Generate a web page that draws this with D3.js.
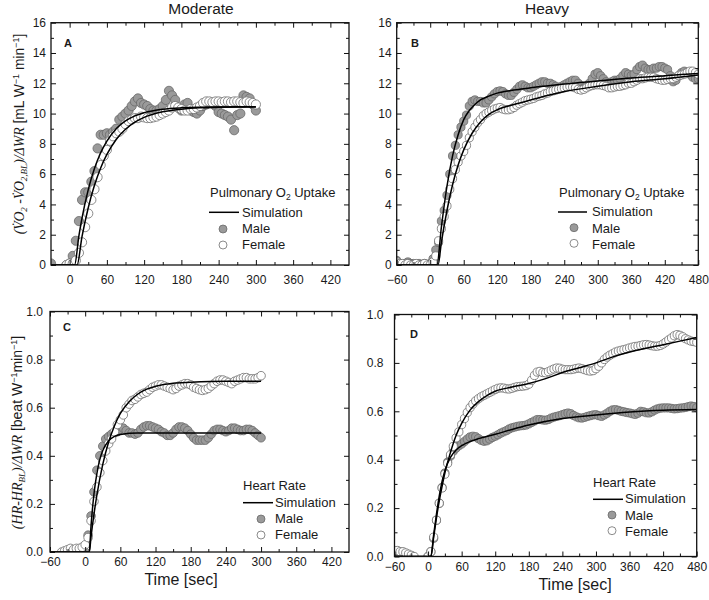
<!DOCTYPE html>
<html><head><meta charset="utf-8">
<script src="https://cdn.jsdelivr.net/npm/d3@7"></script>
<style>
body{margin:0;background:#fff}
svg{display:block}
text{font-family:Arial,"Liberation Sans",sans-serif;fill:#1a1a1a}
</style>
</head><body>
<svg id="c" width="709" height="600"></svg>
<script>
// ---------------- DATA ----------------
const colTitles = ["Moderate", "Heavy"];
const panelLetters = ["A", "B", "C", "D"];
const xTicksA = [0, 60, 120, 180, 240, 300, 360, 420];
const xTicksB = [-60, 0, 60, 120, 180, 240, 300, 360, 420, 480];
const xTicksC = [-60, 0, 60, 120, 180, 240, 300, 360, 420];
const xTicksD = [-60, 0, 60, 120, 180, 240, 300, 360, 420, 480];
const yTicksVO2 = [0, 2, 4, 6, 8, 10, 12, 14, 16];
const yTicksHR = [0, 0.2, 0.4, 0.6, 0.8, 1.0];

// sample times (s), 5 s spacing
const timeA = d3.range(-30, 301, 5);
const timeB = d3.range(-60, 481, 5);
const timeC = d3.range(-60, 301, 5);
const timeD = d3.range(-60, 481, 5);

// Panel A: moderate, pulmonary O2 uptake
const maleA = [0.1, null, null, null, null, 0.0, 0.1,
  0.6, 1.6, 2.9, 4.3, 4.8, 4.8, 5.5, 6.2, 7.7, 8.6,
  8.6, 8.7, 8.6, 8.8, 9.0, 9.6, 9.8, 10.0, 10.2, 10.5,
  10.8, 11.0, 10.7, 10.6, 10.5, 10.3, 10.2, 10.2, 10.3, 10.5,
  10.9, 11.5, 11.2, 10.9, 10.4, 10.2, 10.6, 10.7, 10.2, 10.1,
  10.0, 10.2, 10.5, 10.6, 10.7, 10.7, 10.5, 10.1, 10.0, 9.9,
  9.8, 9.6, 8.9, 9.9, 10.0, 11.2, 11.1, 11.0, 10.6, 10.2];
const femaleA = [null, null, null, null, null, 0.0, 0.1,
  0.1, 0.3, 0.8, 1.5, 2.5, 3.4, 4.3, 5.0, 5.8, 6.6,
  7.2, 7.6, 8.2, 8.5, 8.7, 8.8, 9.0, 9.3, 9.5, 9.6,
  9.7, 9.7, 9.8, 9.75, 9.7, 9.7, 9.75, 9.8, 9.9, 10.0,
  10.1, 10.2, 10.4, 10.5, 10.4, 10.3, 10.2, 10.2, 10.3, 10.3,
  10.4, 10.5, 10.7, 10.8, 10.8, 10.75, 10.8, 10.8, 10.75, 10.8,
  10.8, 10.75, 10.8, 10.8, 10.75, 10.7, 10.8, 10.75, 10.7, 10.6];
const simTimeAm = [-30, 8, 15, 20, 30, 40, 50, 60, 75, 90, 105, 120, 150, 180, 240, 300];
const simAm = [0, 0, 1.94, 3.11, 4.98, 6.37, 7.41, 8.18, 9.0, 9.51, 9.85, 10.06, 10.29, 10.38, 10.44, 10.45];
const simTimeAf = [-30, 12, 20, 30, 40, 50, 60, 75, 90, 105, 120, 150, 180, 210, 240, 300];
const simAf = [0, 0, 1.89, 3.78, 5.26, 6.41, 7.30, 8.29, 8.96, 9.43, 9.75, 10.12, 10.29, 10.38, 10.41, 10.44];

// Panel B: heavy, pulmonary O2 uptake
const maleB = [0.3, 0.1, 0.0, 0.1, 0.2, 0.1, 0.1, 0.0, 0.1, 0.0, 0.1, 0.0, 0.1,
  0.4, 1.0, 1.5, 2.9, 3.6, 4.6, 6.0, 7.2, 7.9, 8.6,
  9.1, 9.5, 9.9, 10.5, 10.8, 10.9, 10.8, 10.8, 10.7, 10.7,
  10.9, 11.1, 11.3, 11.45, 11.5, 11.45, 11.3, 11.2, 11.2, 11.4,
  11.6, 11.8, 11.9, 11.8, 11.7, 11.7, 11.8, 11.9, 12.0, 12.1,
  12.1, 12.0, 12.0, 11.9, 11.8, 11.7, 11.8, 11.9, 12.0, 12.1,
  12.2, 12.2, 12.0, 11.8, 11.7, 11.8, 12.0, 12.3, 12.6, 12.7,
  12.5, 12.3, 12.1, 12.0, 12.1, 12.2, 12.2, 12.3, 12.5, 12.7,
  12.6, 12.5, 12.6, 12.9, 13.1, 13.2, 13.0, 12.9, 12.9, 13.0,
  13.0, 13.1, 13.1, 13.0, 12.9, 12.5, 12.1, 12.2, 12.5, 12.7,
  12.8, 12.7, 12.6, 12.4, 12.3, 12.3];
const femaleB = [0.2, 0.1, 0.1, 0.0, 0.1, 0.0, 0.0, 0.1, 0.0, 0.0, 0.1, 0.0, 0.0,
  0.2, 0.6, 1.6, 2.4, 3.2, 3.9, 5.0, 5.7, 6.3, 6.8,
  7.2, 7.5, 7.9, 8.4, 8.8, 9.1, 9.4, 9.6, 9.85, 10.0,
  10.1, 10.2, 10.3, 10.35, 10.4, 10.3, 10.25, 10.25, 10.3, 10.4,
  10.55, 10.65, 10.75, 10.85, 10.9, 10.95, 11.0, 11.1, 11.15, 11.2,
  11.3, 11.35, 11.45, 11.5, 11.55, 11.6, 11.65, 11.7, 11.75, 11.8,
  11.75, 11.7, 11.6, 11.55, 11.6, 11.7, 11.8, 11.85, 11.9, 11.9,
  11.9, 11.85, 11.8, 11.7, 11.7, 11.75, 11.8, 11.8, 11.85, 11.9,
  12.0, 12.0, 12.1, 12.2, 12.3, 12.3, 12.35, 12.4, 12.4, 12.4,
  12.3, 12.25, 12.2, 12.2, 12.25, 12.3, 12.3, 12.4, 12.5, 12.55,
  12.6, 12.7, 12.8, 12.8, 12.7, 12.6];
const simTimeBm = [-60, 12, 20, 30, 40, 50, 60, 70, 80, 90, 105, 120, 150, 180, 240, 300, 360, 420, 480];
const simBm = [0, 0, 2.5, 5.2, 7.2, 8.6, 9.6, 10.2, 10.6, 10.9, 11.15, 11.35, 11.55, 11.7, 11.95, 12.15, 12.35, 12.5, 12.65];
const simTimeBf = [-60, 14, 20, 30, 40, 50, 60, 75, 90, 105, 120, 150, 180, 240, 300, 360, 420, 480];
const simBf = [0, 0, 1.5, 3.6, 5.3, 6.6, 7.6, 8.7, 9.45, 9.95, 10.25, 10.6, 10.9, 11.45, 11.8, 12.1, 12.3, 12.55];

// Panel C: moderate, heart rate
const maleC = [null, null, null, null, null, null, null, null, null, null, null, null, 0.0,
  0.07, 0.15, 0.25, 0.34, 0.40, 0.44, 0.47, 0.48, 0.49, 0.495,
  0.50, 0.51, 0.515, 0.505, 0.495, 0.495, 0.49, 0.495, 0.51, 0.52,
  0.525, 0.525, 0.52, 0.515, 0.51, 0.50, 0.495, 0.485, 0.485, 0.495,
  0.51, 0.52, 0.52, 0.515, 0.505, 0.49, 0.475, 0.465, 0.465, 0.465,
  0.465, 0.475, 0.49, 0.505, 0.51, 0.51, 0.505, 0.50, 0.505, 0.515,
  0.515, 0.51, 0.505, 0.505, 0.51, 0.51, 0.505, 0.495, 0.485, 0.475];
const femaleC = [null, null, null, null, 0.0, 0.005, 0.01, 0.015, 0.01, 0.015, 0.015, 0.02, 0.03,
  0.06, 0.13, 0.21, 0.27, 0.33, 0.38, 0.42, 0.45, 0.47, 0.50,
  0.53, 0.55, 0.57, 0.60, 0.615, 0.63, 0.635, 0.645, 0.655, 0.66,
  0.665, 0.675, 0.685, 0.69, 0.695, 0.695, 0.69, 0.685, 0.68, 0.675,
  0.68, 0.69, 0.695, 0.70, 0.70, 0.695, 0.685, 0.68, 0.675, 0.672,
  0.675, 0.68, 0.69, 0.70, 0.71, 0.715, 0.715, 0.71, 0.705, 0.70,
  0.71, 0.715, 0.72, 0.725, 0.725, 0.72, 0.72, 0.72, 0.725, 0.733];
const simTimeCm = [-60, 7, 10, 15, 20, 25, 30, 40, 50, 60, 90, 300];
const simCm = [0, 0, 0.109, 0.241, 0.327, 0.385, 0.422, 0.463, 0.481, 0.489, 0.495, 0.495];
const simTimeCf = [-60, 7, 10, 15, 20, 30, 40, 50, 60, 75, 90, 105, 120, 150, 180, 240, 300];
const simCf = [0, 0, 0.064, 0.157, 0.237, 0.364, 0.457, 0.525, 0.576, 0.625, 0.657, 0.677, 0.689, 0.702, 0.706, 0.71, 0.71];

// Panel D: heavy, heart rate
const maleD = [0.02, 0.02, 0.015, 0.01, 0.005, null, null, null, null, null, null, null, 0.0,
  0.02, 0.075, 0.15, 0.22, 0.285, 0.345, 0.39, 0.415, 0.435, 0.448,
  0.458, 0.465, 0.475, 0.485, 0.494, 0.497, 0.495, 0.487, 0.48, 0.476,
  0.478, 0.485, 0.492, 0.497, 0.503, 0.51, 0.515, 0.52, 0.527, 0.532,
  0.535, 0.538, 0.54, 0.541, 0.543, 0.548, 0.554, 0.56, 0.566, 0.566,
  0.564, 0.563, 0.566, 0.572, 0.576, 0.579, 0.582, 0.586, 0.59, 0.593,
  0.59, 0.583, 0.577, 0.573, 0.572, 0.575, 0.579, 0.582, 0.585, 0.586,
  0.582, 0.579, 0.585, 0.592, 0.60, 0.606, 0.607, 0.604, 0.60, 0.598,
  0.595, 0.593, 0.59, 0.587, 0.592, 0.60, 0.598, 0.594, 0.593, 0.598,
  0.605, 0.61, 0.613, 0.614, 0.614, 0.614, 0.612, 0.61, 0.611, 0.613,
  0.614, 0.616, 0.619, 0.622, 0.62, 0.615];
const femaleD = [0.025, 0.025, 0.02, 0.02, 0.015, 0.01, 0.005, 0.0, null, null, null, null, 0.0,
  0.02, 0.08, 0.15, 0.22, 0.283, 0.34, 0.385, 0.42, 0.455, 0.49,
  0.515, 0.545, 0.57, 0.595, 0.615, 0.63, 0.643, 0.652, 0.66, 0.666,
  0.672, 0.678, 0.684, 0.69, 0.695, 0.697, 0.696, 0.693, 0.692, 0.695,
  0.699, 0.702, 0.703, 0.704, 0.706, 0.712, 0.728, 0.748, 0.762, 0.765,
  0.76, 0.759, 0.764, 0.77, 0.775, 0.779, 0.778, 0.774, 0.772, 0.772,
  0.772, 0.774, 0.777, 0.779, 0.776, 0.772, 0.768, 0.766, 0.768, 0.776,
  0.786, 0.80, 0.814, 0.824, 0.832, 0.838, 0.845, 0.849, 0.852, 0.855,
  0.858, 0.862, 0.865, 0.868, 0.869, 0.872, 0.875, 0.876, 0.874, 0.871,
  0.869, 0.869, 0.872, 0.878, 0.886, 0.895, 0.903, 0.912, 0.917, 0.914,
  0.908, 0.90, 0.895, 0.89, 0.888, 0.885];
const simTimeDm = [-60, 5, 10, 15, 20, 25, 30, 40, 50, 60, 75, 90, 120, 150, 180, 240, 300, 360, 420, 480];
const simDm = [0, 0, 0.09, 0.175, 0.25, 0.31, 0.355, 0.41, 0.44, 0.458, 0.475, 0.487, 0.505, 0.525, 0.543, 0.57, 0.585, 0.597, 0.604, 0.607];
const simTimeDf = [-60, 5, 10, 15, 20, 25, 30, 40, 50, 60, 75, 90, 105, 120, 150, 180, 210, 240, 270, 300, 330, 360, 420, 480];
const simDf = [0, 0, 0.08, 0.16, 0.23, 0.29, 0.345, 0.43, 0.50, 0.55, 0.605, 0.64, 0.665, 0.683, 0.70, 0.715, 0.735, 0.76, 0.78, 0.80, 0.825, 0.845, 0.875, 0.905];

const legendLabels = ["Simulation", "Male", "Female"];

// ---------------- DRAW ----------------
const svg = d3.select("#c");
const zip = (t, v) => t.map((d, i) => ({t: d, v: v[i]})).filter(d => d.v != null);

const panels = [
  {id: "A", l: 51, r: 349, t: 22.7, b: 265, xd: [-30, 450], yd: [0, 16], xt: xTicksA, xm: d3.range(30, 450, 60),
   yt: yTicksVO2, ym: d3.range(1, 16, 2), yfmt: d3.format("d"), ypad: 5, xpad: 10, rad: 4.6,
   male: zip(timeA, maleA), female: zip(timeA, femaleA),
   sims: [zip(simTimeAm, simAm), zip(simTimeAf, simAf)],
   letter: [64, 47], leg: {title: "o2", tx: 210, ty: 196.5, lx1: 209, lx2: 239, tx2: 242, cx: 223, rows: [212.3, 229, 245], bases: [216.5, 233, 249.3]}},
  {id: "B", l: 396.7, r: 698.3, t: 22.7, b: 265, xd: [-60, 480], yd: [0, 16], xt: xTicksB, xm: d3.range(-30, 480, 60),
   yt: yTicksVO2, ym: d3.range(1, 16, 2), yfmt: d3.format("d"), ypad: 5, xpad: 10, rad: 4.1,
   male: zip(timeB, maleB), female: zip(timeB, femaleB),
   sims: [zip(simTimeBm, simBm), zip(simTimeBf, simBf)],
   letter: [411, 47], leg: {title: "o2", tx: 559, ty: 196.5, lx1: 558, lx2: 587, tx2: 592, cx: 574, rows: [212, 227.7, 243.3], bases: [216, 232.5, 248.5]}},
  {id: "C", l: 50, r: 349, t: 311.5, b: 552, xd: [-60, 450], yd: [0, 1], xt: xTicksC, xm: d3.range(-30, 450, 60),
   yt: yTicksHR, ym: d3.range(0.1, 1, 0.2), yfmt: d3.format(".1f"), ypad: 7, xpad: 5.5, rad: 4.3,
   male: zip(timeC, maleC), female: zip(timeC, femaleC),
   sims: [zip(simTimeCm, simCm), zip(simTimeCf, simCf)],
   letter: [63, 330.5], leg: {title: "Heart Rate", tx: 243, ty: 490, lx1: 243, lx2: 273, tx2: 275, cx: 261, rows: [502.7, 519, 535], bases: [506.7, 523.3, 539.3]}},
  {id: "D", l: 394.5, r: 696.7, t: 314.5, b: 556.5, xd: [-60, 480], yd: [0, 1], xt: xTicksD, xm: d3.range(-30, 480, 60),
   yt: yTicksHR, ym: d3.range(0.1, 1, 0.2), yfmt: d3.format(".1f"), ypad: 11, xpad: 5.5, rad: 4.1,
   male: zip(timeD, maleD), female: zip(timeD, femaleD),
   sims: [zip(simTimeDm, simDm), zip(simTimeDf, simDf)],
   letter: [410, 338], leg: {title: "Heart Rate", tx: 593, ty: 487.3, lx1: 593, lx2: 623, tx2: 625, cx: 612, rows: [499.3, 515, 530.7], bases: [503.3, 520, 536]}}
];

const MALE_FILL = "#9a9a9a", MALE_STROKE = "#6a6a6a", FEM_STROKE = "#6f6f6f";

panels.forEach((p, pi) => {
  const x = d3.scaleLinear().domain(p.xd).range([p.l, p.r]);
  const y = d3.scaleLinear().domain(p.yd).range([p.b, p.t]);
  const g = svg.append("g");
  svg.append("clipPath").attr("id", "clip" + p.id).append("rect")
    .attr("x", p.l).attr("y", p.t).attr("width", p.r - p.l).attr("height", p.b - p.t);
  const pg = g.append("g").attr("clip-path", `url(#clip${p.id})`);

  pg.selectAll("circle.m").data(p.male).join("circle").attr("class", "m")
    .attr("cx", d => x(d.t)).attr("cy", d => y(d.v)).attr("r", p.rad)
    .attr("fill", MALE_FILL).attr("stroke", MALE_STROKE).attr("stroke-width", 0.8);
  pg.selectAll("circle.f").data(p.female).join("circle").attr("class", "f")
    .attr("cx", d => x(d.t)).attr("cy", d => y(d.v)).attr("r", p.rad)
    .attr("fill", "#fff").attr("stroke", FEM_STROKE).attr("stroke-width", 0.8);

  const line = d3.line().x(d => x(d.t)).y(d => y(d.v)).curve(d3.curveMonotoneX);
  p.sims.forEach(s => pg.append("path").attr("d", line(s)).attr("fill", "none")
    .attr("stroke", "#000").attr("stroke-width", 1.5));

  g.append("rect").attr("x", p.l).attr("y", p.t).attr("width", p.r - p.l).attr("height", p.b - p.t)
    .attr("fill", "none").attr("stroke", "#111").attr("stroke-width", 1.3);

  const ax = (gen, tr) => {
    const a = g.append("g").attr("transform", tr).call(gen);
    a.select(".domain").remove();
    a.attr("font-size", 12).attr("font-family", "Arial, 'Liberation Sans', sans-serif").attr("color", "#111");
    a.selectAll("text").style("fill", "#1a1a1a");
    a.selectAll("line").attr("stroke-width", 1);
    return a;
  };
  ax(d3.axisBottom(x).tickValues(p.xt).tickSize(-5).tickPadding(p.xpad), `translate(0,${p.b})`);
  ax(d3.axisBottom(x).tickValues(p.xm).tickSize(-3).tickFormat(""), `translate(0,${p.b})`);
  ax(d3.axisTop(x).tickValues(p.xt).tickSize(-5).tickFormat(""), `translate(0,${p.t})`);
  ax(d3.axisTop(x).tickValues(p.xm).tickSize(-3).tickFormat(""), `translate(0,${p.t})`);
  ax(d3.axisLeft(y).tickValues(p.yt).tickSize(-5).tickPadding(p.ypad).tickFormat(p.yfmt), `translate(${p.l},0)`);
  ax(d3.axisLeft(y).tickValues(p.ym).tickSize(-3).tickFormat(""), `translate(${p.l},0)`);
  ax(d3.axisRight(y).tickValues(p.yt).tickSize(-5).tickFormat(""), `translate(${p.r},0)`);
  ax(d3.axisRight(y).tickValues(p.ym).tickSize(-3).tickFormat(""), `translate(${p.r},0)`);

  // panel letter
  g.append("text").attr("x", p.letter[0]).attr("y", p.letter[1]).attr("font-size", 11)
    .attr("font-weight", "bold").text(panelLetters[pi]);

  // legend
  const L = p.leg;
  const t = g.append("text").attr("x", L.tx).attr("y", L.ty).attr("font-size", 13);
  if (L.title === "o2") {
    t.append("tspan").text("Pulmonary O");
    t.append("tspan").attr("font-size", 8.5).attr("dy", 3).text("2");
    t.append("tspan").attr("dy", -3).text(" Uptake");
  } else t.text(L.title);
  g.append("line").attr("x1", L.lx1).attr("x2", L.lx2).attr("y1", L.rows[0]).attr("y2", L.rows[0])
    .attr("stroke", "#000").attr("stroke-width", 1.5);
  g.append("circle").attr("cx", L.cx).attr("cy", L.rows[1]).attr("r", 4)
    .attr("fill", MALE_FILL).attr("stroke", MALE_STROKE).attr("stroke-width", 0.8);
  g.append("circle").attr("cx", L.cx).attr("cy", L.rows[2]).attr("r", 4)
    .attr("fill", "#fff").attr("stroke", FEM_STROKE).attr("stroke-width", 0.8);
  legendLabels.forEach((s, i) => g.append("text").attr("x", L.tx2).attr("y", L.bases[i])
    .attr("font-size", 13).text(s));
});

// column titles
svg.append("text").attr("x", 201).attr("y", 14).attr("text-anchor", "middle").attr("font-size", 15.5).text(colTitles[0]);
svg.append("text").attr("x", 547).attr("y", 14).attr("text-anchor", "middle").attr("font-size", 15.5).text(colTitles[1]);

// x axis titles
svg.append("text").attr("x", 181).attr("y", 585).attr("text-anchor", "middle").attr("font-size", 16).text("Time [sec]");
svg.append("text").attr("x", 575).attr("y", 590).attr("text-anchor", "middle").attr("font-size", 16).text("Time [sec]");

// y axis titles
const serif = "'Liberation Serif','Times New Roman',serif";
const yl1 = svg.append("text").attr("transform", "translate(24,134) rotate(-90)").attr("text-anchor", "middle").attr("font-size", 13.8);
const it = (sel, s) => sel.append("tspan").attr("font-family", serif).attr("font-style", "italic").text(s);
it(yl1, "(V\u0307O");
it(yl1, "2").attr("font-size", 9).attr("dy", 3);
it(yl1, " -V\u0307O").attr("dy", -3);
it(yl1, "2,BL").attr("font-size", 9).attr("dy", 3);
it(yl1, ")/\u0394WR").attr("dy", -3);
yl1.append("tspan").text(" [mL W");
yl1.append("tspan").attr("font-size", 9).attr("dy", -5).text("\u22121");
yl1.append("tspan").attr("dy", 5).text(" min");
yl1.append("tspan").attr("font-size", 9).attr("dy", -5).text("\u22121");
yl1.append("tspan").attr("dy", 5).text("]");

const yl2 = svg.append("text").attr("transform", "translate(22,432.5) rotate(-90)").attr("text-anchor", "middle").attr("font-size", 14);
it(yl2, "(HR-HR");
it(yl2, "BL").attr("font-size", 9).attr("dy", 3);
it(yl2, ")/\u0394WR").attr("dy", -3);
yl2.append("tspan").text(" [beat W");
yl2.append("tspan").attr("font-size", 9).attr("dy", -5).text("\u22121");
yl2.append("tspan").attr("dy", 5).text("min");
yl2.append("tspan").attr("font-size", 9).attr("dy", -5).text("\u22121");
yl2.append("tspan").attr("dy", 5).text("]");
</script>
</body></html>
